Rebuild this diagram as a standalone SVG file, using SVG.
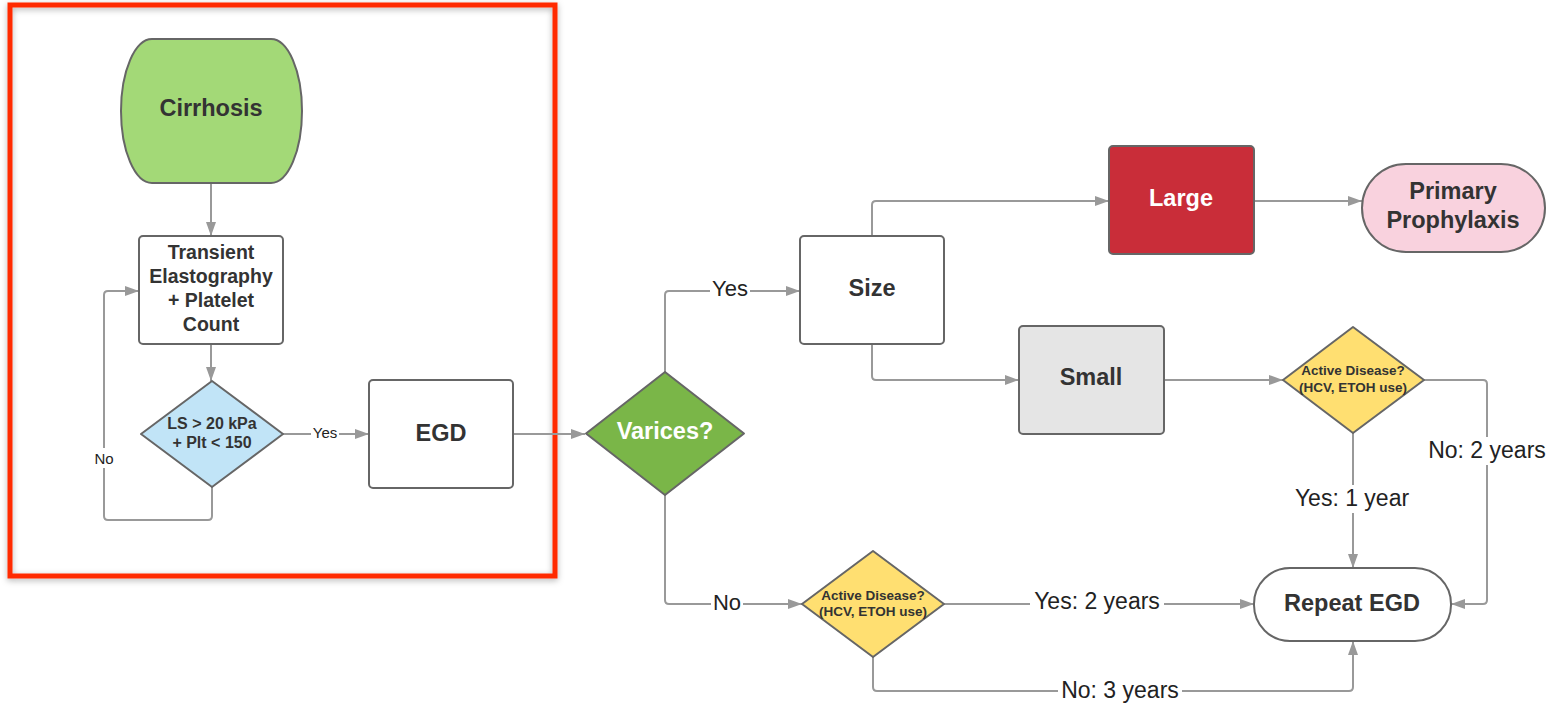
<svg xmlns="http://www.w3.org/2000/svg" width="1554" height="703" viewBox="0 0 1554 703">
<style>
  .nd{stroke:#666;stroke-width:2}
  .t{font-family:"Liberation Sans",Arial,sans-serif;font-weight:bold;fill:#333;text-anchor:middle;dominant-baseline:central}
  .tw{font-family:"Liberation Sans",Arial,sans-serif;font-weight:bold;fill:#fff;text-anchor:middle;dominant-baseline:central}
  .c{fill:none;stroke:#999;stroke-width:2}
  .bg{fill:#fff}
  .lb{font-family:"Liberation Sans",Arial,sans-serif;fill:#222;text-anchor:middle;dominant-baseline:central}
</style>
<defs>
  <marker id="arr" viewBox="0 0 14 10" refX="14" refY="5" markerWidth="14" markerHeight="10" orient="auto" markerUnits="userSpaceOnUse">
    <path d="M0,0 L14,5 L0,10 z" fill="#999"/>
  </marker>
  <filter id="sh" x="-5%" y="-5%" width="110%" height="110%">
    <feDropShadow dx="0" dy="2" stdDeviation="3" flood-color="#000" flood-opacity="0.3"/>
  </filter>
</defs>
<rect width="1554" height="703" fill="#fff"/>
<rect id="frame" x="10" y="5" width="545" height="571" fill="none" stroke="#ff2a00" stroke-width="5" filter="url(#sh)"/>

<g id="connectors">
  <path class="c" d="M211,183 V236" marker-end="url(#arr)"/>
  <path class="c" d="M211,344 V381" marker-end="url(#arr)"/>
  <path class="c" d="M283,434 H369" marker-end="url(#arr)"/>
  <rect class="bg" x="311" y="424" width="28" height="17"/>
  <text class="lb" x="325" y="432" font-size="15">Yes</text>
  <path class="c" d="M212,487 V516 Q212,520 208,520 H108 Q104,520 104,516 V295 Q104,291 108,291 H139" marker-end="url(#arr)"/>
  <rect class="bg" x="92" y="448" width="24" height="20"/>
  <text class="lb" x="104" y="458" font-size="15">No</text>
  <path class="c" d="M513,434 H585" marker-end="url(#arr)"/>
  <path class="c" d="M665,372 V295 Q665,291 669,291 H800" marker-end="url(#arr)"/>
  <rect class="bg" x="710" y="277" width="40" height="24"/>
  <text class="lb" x="730" y="288" font-size="22">Yes</text>
  <path class="c" d="M872,236 V205 Q872,201 876,201 H1109" marker-end="url(#arr)"/>
  <path class="c" d="M872,344 V376 Q872,380 876,380 H1019" marker-end="url(#arr)"/>
  <path class="c" d="M1254,201 H1362" marker-end="url(#arr)"/>
  <path class="c" d="M1164,380 H1283" marker-end="url(#arr)"/>
  <path class="c" d="M1353,433 V568" marker-end="url(#arr)"/>
  <rect class="bg" x="1290" y="485" width="124" height="28"/>
  <text class="lb" x="1352" y="498" font-size="23">Yes: 1 year</text>
  <path class="c" d="M1424,380 H1483 Q1487,380 1487,384 V600 Q1487,604 1483,604 H1451" marker-end="url(#arr)"/>
  <rect class="bg" x="1424" y="437" width="126" height="28"/>
  <text class="lb" x="1487" y="450" font-size="23">No: 2 years</text>
  <path class="c" d="M665,495 V600 Q665,604 669,604 H802" marker-end="url(#arr)"/>
  <rect class="bg" x="711" y="591" width="32" height="24"/>
  <text class="lb" x="727" y="602" font-size="22">No</text>
  <path class="c" d="M944,604 H1254" marker-end="url(#arr)"/>
  <rect class="bg" x="1030" y="588" width="134" height="28"/>
  <text class="lb" x="1097" y="601" font-size="23">Yes: 2 years</text>
  <path class="c" d="M873,657 V687 Q873,691 877,691 H1349 Q1353,691 1353,687 V641" marker-end="url(#arr)"/>
  <rect class="bg" x="1058" y="677" width="124" height="26"/>
  <text class="lb" x="1120" y="690" font-size="23">No: 3 years</text>
</g>

<g id="cirrhosis">
  <path class="nd" fill="#a3d977" d="M152,39 H271 A31,72 0 0 1 271,183 H152 A31,72 0 0 1 152,39 Z"/>
  <text class="t" x="211" y="108" font-size="23.5">Cirrhosis</text>
</g>
<g id="transient">
  <rect class="nd" fill="#fff" x="139" y="236" width="144" height="108" rx="4"/>
  <text class="t" x="211" y="252" font-size="19.5">Transient</text>
  <text class="t" x="211" y="276" font-size="19.5">Elastography</text>
  <text class="t" x="211" y="300" font-size="19.5">+ Platelet</text>
  <text class="t" x="211" y="324" font-size="19.5">Count</text>
</g>
<g id="ls">
  <path class="nd" fill="#c1e4f7" stroke-linejoin="round" d="M212,381 L283,434 L212,487 L141,434 Z"/>
  <text class="t" x="212" y="423" font-size="16">LS &gt; 20 kPa</text>
  <text class="t" x="212" y="442" font-size="16">+ Plt &lt; 150</text>
</g>
<g id="egd">
  <rect class="nd" fill="#fff" x="369" y="380" width="144" height="108" rx="4"/>
  <text class="t" x="441" y="433" font-size="23.5">EGD</text>
</g>
<g id="varices">
  <path class="nd" fill="#7ab648" stroke="#555" stroke-linejoin="round" d="M665,372 L744,433.5 L665,495 L586,433.5 Z"/>
  <text class="tw" x="665" y="431" font-size="23.5">Varices?</text>
</g>
<g id="size">
  <rect class="nd" fill="#fff" x="800" y="236" width="144" height="108" rx="4"/>
  <text class="t" x="872" y="288" font-size="23.5">Size</text>
</g>
<g id="large">
  <rect class="nd" fill="#c92d39" x="1109" y="146" width="145" height="108" rx="4"/>
  <text class="tw" x="1181" y="198" font-size="23.5">Large</text>
</g>
<g id="primary">
  <rect class="nd" fill="#f9d2de" x="1362" y="164" width="183" height="88" rx="44"/>
  <text class="t" x="1453" y="191" font-size="23.5">Primary</text>
  <text class="t" x="1453" y="220" font-size="23.5">Prophylaxis</text>
</g>
<g id="small">
  <rect class="nd" fill="#e5e5e5" x="1019" y="326" width="145" height="108" rx="4"/>
  <text class="t" x="1091" y="377" font-size="23.5">Small</text>
</g>
<g id="active1">
  <path class="nd" fill="#ffdf71" stroke-linejoin="round" d="M1353,327 L1424,380 L1353,433 L1283,380 Z"/>
  <text class="t" x="1353" y="370" font-size="13.5">Active Disease?</text>
  <text class="t" x="1353" y="387" font-size="13.5">(HCV, ETOH use)</text>
</g>
<g id="active2">
  <path class="nd" fill="#ffdf71" stroke-linejoin="round" d="M873,551 L944,604 L873,657 L802,604 Z"/>
  <text class="t" x="873" y="595" font-size="13.5">Active Disease?</text>
  <text class="t" x="873" y="611" font-size="13.5">(HCV, ETOH use)</text>
</g>
<g id="repeat">
  <rect class="nd" fill="#fff" x="1254" y="568" width="197" height="73" rx="36"/>
  <text class="t" x="1352" y="603" font-size="23.5">Repeat EGD</text>
</g>
</svg>
